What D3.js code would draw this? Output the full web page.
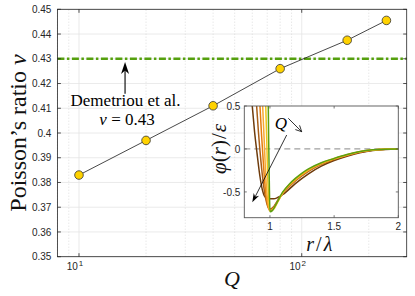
<!DOCTYPE html>
<html><head><meta charset="utf-8">
<script src="https://cdn.jsdelivr.net/npm/d3@7"></script>
<style>body{margin:0;background:#fff}svg{display:block}</style>
</head><body><svg id="c" width="415" height="296"></svg>
<script>
// ---- main data ----
const Q = [10, 20, 40, 80, 160, 240];
const nu = [0.383, 0.397, 0.411, 0.426, 0.4375, 0.4455];
const refNu = 0.43;
const yTicks = [0.35, 0.36, 0.37, 0.38, 0.39, 0.4, 0.41, 0.42, 0.43, 0.44, 0.45];
const yTickLabels = ["0.35","0.36","0.37","0.38","0.39","0.4","0.41","0.42","0.43","0.44","0.45"];
const xMajor = [10, 100];
const xMajorExp = ["1", "2"];
const xMinor = [8, 9, 20, 30, 40, 50, 60, 70, 80, 90, 200];
// annotation (data coords)
const annoQ = 16.1;
const annoFrom = 0.4159, annoTo = 0.4287;

// ---- inset data: pair potentials phi(r)/eps for each Q ----
const insetColors = ["#6e3b0b", "#a85d16", "#e57d0e", "#f7a733", "#f0c418", "#5c9e12"];
const phiQ10  = [[0.862,0.5],[0.88,0.2],[0.9,-0.06],[0.92,-0.3],[0.94,-0.47],[0.96,-0.555],[0.98,-0.575],[1.0,-0.58],[1.03,-0.58],[1.06,-0.565],[1.1,-0.53],[1.2,-0.4],[1.3,-0.29],[1.4,-0.2],[1.5,-0.135],[1.6,-0.085],[1.7,-0.045],[1.8,-0.018],[1.9,-0.005],[2.0,0]];
const phiQ20  = [[0.896,0.5],[0.91,0.2],[0.93,-0.15],[0.95,-0.42],[0.97,-0.6],[0.99,-0.69],[1.0,-0.7],[1.03,-0.67],[1.06,-0.6],[1.1,-0.52],[1.2,-0.37],[1.3,-0.26],[1.4,-0.18],[1.5,-0.122],[1.6,-0.076],[1.7,-0.038],[1.8,-0.014],[1.9,-0.004],[2.0,0]];
const phiQ40  = [[0.922,0.5],[0.935,0.15],[0.95,-0.2],[0.965,-0.48],[0.98,-0.64],[0.995,-0.71],[1.0,-0.715],[1.03,-0.68],[1.06,-0.605],[1.1,-0.515],[1.2,-0.362],[1.3,-0.252],[1.4,-0.175],[1.5,-0.118],[1.6,-0.073],[1.7,-0.035],[1.8,-0.013],[1.9,-0.003],[2.0,0]];
const phiQ80  = [[0.943,0.5],[0.955,0.1],[0.965,-0.25],[0.975,-0.5],[0.99,-0.68],[1.0,-0.72],[1.03,-0.69],[1.06,-0.61],[1.1,-0.51],[1.2,-0.355],[1.3,-0.245],[1.4,-0.17],[1.5,-0.115],[1.6,-0.07],[1.7,-0.033],[1.8,-0.012],[1.9,-0.003],[2.0,0]];
const phiQ160 = [[0.967,0.5],[0.975,0.1],[0.982,-0.3],[0.99,-0.58],[1.0,-0.725],[1.03,-0.7],[1.06,-0.62],[1.1,-0.505],[1.2,-0.348],[1.3,-0.238],[1.4,-0.165],[1.5,-0.112],[1.6,-0.067],[1.7,-0.031],[1.8,-0.011],[1.9,-0.002],[2.0,0]];
const phiQ240 = [[0.987,0.5],[0.99,0.1],[0.995,-0.4],[1.0,-0.73],[1.02,-0.715],[1.05,-0.635],[1.1,-0.5],[1.15,-0.41],[1.2,-0.34],[1.25,-0.28],[1.3,-0.232],[1.4,-0.16],[1.5,-0.11],[1.6,-0.065],[1.7,-0.03],[1.8,-0.01],[1.9,-0.002],[2.0,0]];
const insetCurves = [phiQ10, phiQ20, phiQ40, phiQ80, phiQ160, phiQ240];
const insetXTicks = [1, 1.5, 2];
const insetYTicks = [-0.5, 0, 0.5];

// ---- drawing ----
const svg = d3.select("#c");
const ink = "#262626";
const sans = "'Liberation Sans', Arial, sans-serif";
const serif = "'Liberation Serif', 'Times New Roman', serif";

const x = d3.scaleLog().domain([8, 296]).range([57.4, 406.7]);
const y = d3.scaleLinear().domain([0.35, 0.45]).range([256.7, 9.3]);
const [X0, X1] = x.range();
const [Y0, Y1] = y.range();

// grid
const g = svg.append("g");
g.selectAll(".hg").data(yTicks).join("line")
  .attr("x1", X0).attr("x2", X1).attr("y1", d => y(d)).attr("y2", d => y(d))
  .attr("stroke", "#e4e4e4").attr("stroke-width", 0.8);
g.selectAll(".vm").data(xMinor).join("line")
  .attr("x1", d => x(d)).attr("x2", d => x(d)).attr("y1", Y0).attr("y2", Y1)
  .attr("stroke", "#d6d6d6").attr("stroke-width", 0.8).attr("stroke-dasharray", "1,2");
g.selectAll(".vM").data(xMajor).join("line")
  .attr("x1", d => x(d)).attr("x2", d => x(d)).attr("y1", Y0).attr("y2", Y1)
  .attr("stroke", "#e4e4e4").attr("stroke-width", 0.8);

// reference line
svg.append("line").attr("x1", X0).attr("x2", X1).attr("y1", y(refNu)).attr("y2", y(refNu))
  .attr("stroke", "#55a00e").attr("stroke-width", 2.6).attr("stroke-dasharray", "7,2.5,2.5,2.5");

// data line + markers
const pts = Q.map((q, i) => [q, nu[i]]);
svg.append("path").datum(pts)
  .attr("d", d3.line().x(d => x(d[0])).y(d => y(d[1])))
  .attr("fill", "none").attr("stroke", "#1a1a1a").attr("stroke-width", 0.8);
svg.selectAll(".mk").data(pts).join("circle")
  .attr("cx", d => x(d[0])).attr("cy", d => y(d[1])).attr("r", 4.3)
  .attr("fill", "#ffd200").attr("stroke", "#333").attr("stroke-width", 0.8);

// axes box
svg.append("rect").attr("x", X0).attr("y", Y1).attr("width", X1 - X0).attr("height", Y0 - Y1)
  .attr("fill", "none").attr("stroke", ink).attr("stroke-width", 0.8);
const tl = 3.5;
svg.selectAll(".yt").data(yTicks).join("path")
  .attr("d", d => `M${X0},${y(d)}h${tl}M${X1},${y(d)}h${-tl}`)
  .attr("stroke", ink).attr("stroke-width", 0.8);
svg.selectAll(".xt").data(xMajor).join("path")
  .attr("d", d => `M${x(d)},${Y0}v${-tl}M${x(d)},${Y1}v${tl}`)
  .attr("stroke", ink).attr("stroke-width", 0.8);

// tick labels
svg.selectAll(".ytl").data(yTicks).join("text")
  .attr("x", X0 - 6).attr("y", d => y(d) + 3.6)
  .attr("text-anchor", "end").attr("font-family", sans).attr("font-size", 10).attr("fill", ink)
  .text((d, i) => yTickLabels[i]);
xMajor.forEach((d, i) => {
  const t = svg.append("text").attr("x", x(d) - 4).attr("y", Y0 + 13)
    .attr("text-anchor", "middle").attr("font-family", sans).attr("font-size", 10).attr("fill", ink);
  t.append("tspan").text("10");
  t.append("tspan").attr("dy", -4).attr("font-size", 8).attr("dx", 1).text(xMajorExp[i]);
});

// axis labels
svg.append("text").attr("transform", `translate(26,${(Y0 + Y1) / 2}) rotate(-90)`)
  .attr("text-anchor", "middle").attr("font-family", serif).attr("font-size", 24).attr("fill", "#111")
  .html("Poisson’s ratio <tspan font-style='italic'>ν</tspan>");
svg.append("text").attr("x", (X0 + X1) / 2).attr("y", 286)
  .attr("text-anchor", "middle").attr("font-family", serif).attr("font-style", "italic")
  .attr("font-size", 22).attr("fill", "#111").text("Q");

// annotation
function arrowHead(sel, x1, y1, x2, y2, len, wid, filled) {
  const a = Math.atan2(y2 - y1, x2 - x1);
  const bx = x2 - len * Math.cos(a), by = y2 - len * Math.sin(a);
  const px = -Math.sin(a) * wid / 2, py = Math.cos(a) * wid / 2;
  if (filled) {
    sel.append("path").attr("d", `M${x2},${y2}L${bx + px},${by + py}L${x2 - len * 0.7 * Math.cos(a)},${y2 - len * 0.7 * Math.sin(a)}L${bx - px},${by - py}Z`)
      .attr("fill", "#000");
  } else {
    sel.append("path").attr("d", `M${bx + px},${by + py}L${x2},${y2}L${bx - px},${by - py}`)
      .attr("fill", "none").attr("stroke", "#000").attr("stroke-width", 0.8);
  }
}
const ax = x(annoQ);
svg.append("line").attr("x1", ax).attr("x2", ax).attr("y1", y(annoFrom)).attr("y2", y(annoTo) + 4)
  .attr("stroke", "#000").attr("stroke-width", 1.1);
arrowHead(svg, ax, y(annoFrom), ax, y(annoTo), 12, 8, true);
svg.append("text").attr("x", ax + 0.5).attr("y", 105.5).attr("text-anchor", "middle")
  .attr("font-family", serif).attr("font-size", 17).attr("fill", "#000").text("Demetriou et al.");
svg.append("text").attr("x", ax + 2).attr("y", 125).attr("text-anchor", "middle")
  .attr("font-family", serif).attr("font-size", 17).attr("fill", "#000")
  .html("<tspan font-style='italic'>ν</tspan> = 0.43");

// ---- inset ----
const ix = d3.scaleLinear().domain([0.8, 2]).range([244.3, 398.3]);
const iy = d3.scaleLinear().domain([-0.8, 0.5]).range([217.7, 106]);
const [IX0, IX1] = ix.range();
const [IY0, IY1] = iy.range();
const ins = svg.append("g");
ins.append("rect").attr("x", IX0).attr("y", IY1).attr("width", IX1 - IX0).attr("height", IY0 - IY1).attr("fill", "#fff");
svg.append("clipPath").attr("id", "ic").append("rect")
  .attr("x", IX0).attr("y", IY1).attr("width", IX1 - IX0).attr("height", IY0 - IY1);
ins.append("line").attr("x1", IX0).attr("x2", IX1).attr("y1", iy(0)).attr("y2", iy(0))
  .attr("stroke", "#a0a0a0").attr("stroke-width", 1.2).attr("stroke-dasharray", "6,4");
const il = d3.line().x(d => ix(d[0])).y(d => iy(d[1])).curve(d3.curveMonotoneX);
ins.append("g").attr("clip-path", "url(#ic)").selectAll("path").data(insetCurves).join("path")
  .attr("d", il).attr("fill", "none").attr("stroke", (d, i) => insetColors[i]).attr("stroke-width", 1.5);
ins.append("rect").attr("x", IX0).attr("y", IY1).attr("width", IX1 - IX0).attr("height", IY0 - IY1)
  .attr("fill", "none").attr("stroke", "#555").attr("stroke-width", 0.9);
const itl = 2.5;
ins.selectAll(".ixt").data(insetXTicks).join("path")
  .attr("d", d => `M${ix(d)},${IY0}v${-itl}M${ix(d)},${IY1}v${itl}`).attr("stroke", "#555").attr("stroke-width", 0.8);
ins.selectAll(".iyt").data(insetYTicks).join("path")
  .attr("d", d => `M${IX0},${iy(d)}h${itl}M${IX1},${iy(d)}h${-itl}`).attr("stroke", "#555").attr("stroke-width", 0.8);
ins.selectAll(".ixl").data(insetXTicks).join("text")
  .attr("x", d => ix(d)).attr("y", IY0 + 12).attr("text-anchor", "middle")
  .attr("font-family", sans).attr("font-size", 10).attr("fill", ink).text(d => d);
ins.selectAll(".iyl").data(insetYTicks).join("text")
  .attr("x", IX0 - 4).attr("y", d => iy(d) + 3.6).attr("text-anchor", "end")
  .attr("font-family", sans).attr("font-size", 10).attr("fill", ink).text(d => d === -0.5 ? "-0.5" : d);
ins.append("text").attr("transform", `translate(226,${iy(0)}) rotate(-90)`)
  .attr("text-anchor", "middle").attr("font-family", serif).attr("font-size", 21).attr("fill", "#111")
  .html("<tspan font-style='italic'>φ</tspan>(<tspan font-style='italic'>r</tspan>)<tspan dx='1'>/</tspan><tspan dx='1' font-style='italic'>ε</tspan>");
ins.append("text").attr("x", (IX0 + IX1) / 2 - 2).attr("y", 251).attr("text-anchor", "middle")
  .attr("font-family", serif).attr("font-size", 20).attr("fill", "#111")
  .html("<tspan font-style='italic'>r</tspan><tspan dx='2'>/</tspan><tspan dx='2' font-style='italic'>λ</tspan>");
// inset annotations
ins.append("text").attr("x", 281).attr("y", 129).attr("text-anchor", "middle")
  .attr("font-family", serif).attr("font-style", "italic").attr("font-size", 17).attr("fill", "#000").text("Q");
ins.append("line").attr("x1", 286.7).attr("y1", 135).attr("x2", 254).attr("y2", 199)
  .attr("stroke", "#000").attr("stroke-width", 0.8);
arrowHead(ins, 286.7, 135, 252.3, 202.3, 9, 6, true);
ins.append("line").attr("x1", 288.3).attr("y1", 118.3).attr("x2", 301.7).attr("y2", 131.7)
  .attr("stroke", "#000").attr("stroke-width", 0.8);
arrowHead(ins, 288.3, 118.3, 301.7, 131.7, 6, 6, false);
</script></body></html>
